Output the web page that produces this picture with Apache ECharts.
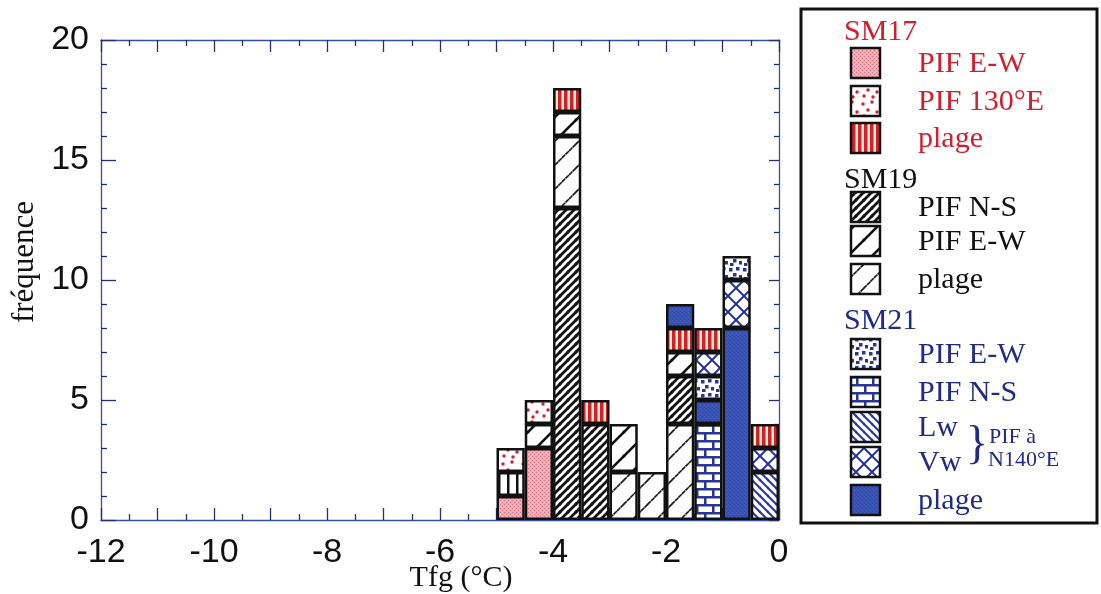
<!DOCTYPE html>
<html>
<head>
<meta charset="utf-8">
<style>
html,body{margin:0;padding:0;background:#fff;}
#chart{width:1101px;height:594px;}
</style>
<script src="https://cdn.jsdelivr.net/npm/echarts@6/dist/echarts.min.js"></script>
</head>
<body>
<div id="chart"></div>
<script>
// ---------- DATA ----------
// Histogram bins (left edge, °C), width 0.5, over the x range
const xMin = -12, xMax = 0, binWidth = 0.5;
const dataBins = [-5, -4.5, -4, -3.5, -3, -2.5, -2, -1.5, -1, -0.5];
// stacked layers, bottom -> top (values per data bin)
const sm17PifEW      = [1, 3, 0, 0, 0, 0, 0, 0, 0, 0];
const sm17Other      = [1, 0, 0, 0, 0, 0, 0, 0, 0, 0];
const sm19PlageLow   = [0, 0, 0, 0, 2, 2, 4, 0, 0, 0];
const sm19PifNS      = [0, 0, 13, 4, 0, 0, 2, 0, 0, 0];
const sm19PlageHigh  = [0, 0, 3, 0, 0, 0, 0, 0, 0, 0];
const sm19PifEW      = [0, 1, 1, 0, 2, 0, 1, 0, 0, 0];
const sm21PifNS      = [0, 0, 0, 0, 0, 0, 0, 4, 0, 0];
const sm21Lw         = [0, 0, 0, 0, 0, 0, 0, 0, 0, 2];
const sm21PlageLow   = [0, 0, 0, 0, 0, 0, 0, 1, 8, 0];
const sm21PifEWLow   = [0, 0, 0, 0, 0, 0, 0, 1, 0, 0];
const sm21Vw         = [0, 0, 0, 0, 0, 0, 0, 1, 2, 1];
const sm21PifEWHigh  = [0, 0, 0, 0, 0, 0, 0, 0, 1, 0];
const sm17Plage      = [0, 0, 1, 1, 0, 0, 1, 1, 0, 1];
const sm21PlageHigh  = [0, 0, 0, 0, 0, 0, 1, 0, 0, 0];
const sm17Pif130     = [1, 1, 0, 0, 0, 0, 0, 0, 0, 0];

// Legend texts
const sm17Title = 'SM17', sm19Title = 'SM19', sm21Title = 'SM21';
const sm17Labels = ['PIF E-W', 'PIF 130°E', 'plage'];
const sm19Labels = ['PIF N-S', 'PIF E-W', 'plage'];
const sm21Labels = ['PIF E-W', 'PIF N-S', 'Lw', 'Vw', 'plage'];
const braceLabels = ['PIF à', 'N140°E'];
const xTitle = 'Tfg (°C)', yTitle = 'fréquence';

// ---------- PATTERNS ----------
const RED = '#d11f2e', BLUE = '#27359a', NAVY = '#1f2b86';
function pat(w, h, draw) {
  const c = document.createElement('canvas');
  c.width = w; c.height = h;
  const g = c.getContext('2d');
  g.fillStyle = '#fff'; g.fillRect(0, 0, w, h);
  draw(g, w, h);
  return { image: c, repeat: 'repeat' };
}
function diag(g, s, lw, color, dash, back) {
  g.strokeStyle = color; g.lineWidth = lw; g.lineCap = 'square';
  if (dash) g.setLineDash(dash);
  const segs = back
    ? [[0, 0, s, s], [-s, 0, 0, s], [s, 0, 2 * s, s], [0, -s, s, 0], [0, s, s, 2 * s]]
    : [[0, s, s, 0], [-s, s, 0, 0], [s, s, 2 * s, 0], [0, 2 * s, s, s], [0, 0, s, -s]];
  segs.forEach(p => { g.beginPath(); g.moveTo(p[0], p[1]); g.lineTo(p[2], p[3]); g.stroke(); });
}
const P = {
  pink: pat(4, 4, g => {
    g.fillStyle = '#f1aab3'; g.fillRect(0, 0, 4, 4);
    g.fillStyle = '#e0707f'; g.fillRect(0, 0, 1, 1); g.fillRect(2, 2, 1, 1);
    g.fillStyle = '#f6c6cc'; g.fillRect(2, 0, 1, 1); g.fillRect(0, 2, 1, 1);
  }),
  redDots: pat(20, 20, g => {
    g.fillStyle = RED;
    [[3, 4], [12, 2], [8, 10], [17, 12], [4, 16], [13, 17]].forEach(p => {
      g.beginPath(); g.arc(p[0], p[1], 1.7, 0, Math.PI * 2); g.fill();
    });
  }),
  redStripes: pat(6, 6, g => {
    g.fillStyle = '#f6eecb'; g.fillRect(0, 0, 6, 6);
    g.fillStyle = RED; g.fillRect(0, 0, 3.5, 6);
  }),
  vLines: pat(9, 9, g => { g.fillStyle = '#111'; g.fillRect(3, 0, 2.5, 9); }),
  nsDense: pat(8, 8, g => diag(g, 8, 2.8, '#111')),
  ewSparse: pat(24, 24, g => diag(g, 24, 2.6, '#111')),
  plageDash: pat(24, 24, g => diag(g, 24, 1.6, '#111', [3, 2])),
  blueDots: pat(14, 14, g => {
    g.fillStyle = BLUE;
    [[1, 2], [8, 1], [5, 7], [11, 9], [2, 11]].forEach(p => g.fillRect(p[0], p[1], 3.5, 3.5));
  }),
  brick: pat(16, 16, g => {
    g.fillStyle = BLUE;
    g.fillRect(0, 0, 16, 2.5); g.fillRect(0, 8, 16, 2.5);
    g.fillRect(0, 0, 2.5, 8); g.fillRect(8, 8, 2.5, 8);
  }),
  lw: pat(8, 8, g => diag(g, 8, 2, BLUE, null, true)),
  vw: pat(16, 16, g => { diag(g, 16, 2, BLUE); diag(g, 16, 2, BLUE, null, true); }),
  bluePlage: pat(4, 4, g => {
    g.fillStyle = '#3a52b3'; g.fillRect(0, 0, 4, 4);
    g.fillStyle = '#4560c0'; g.fillRect(0, 0, 1, 1); g.fillRect(2, 2, 1, 1);
    g.fillStyle = '#3047a6'; g.fillRect(2, 0, 1, 1); g.fillRect(0, 3, 1, 1);
  })
};

// ---------- BUILD ----------
const categories = [];
for (let x = xMin; x < xMax - 1e-9; x += binWidth) categories.push(x.toFixed(1));
function full(arr) {
  const out = categories.map(() => null);
  dataBins.forEach((b, i) => {
    const k = categories.indexOf(b.toFixed(1));
    out[k] = arr[i] > 0 ? arr[i] : null;
  });
  return out;
}
const layers = [
  ['SM17 PIF E-W', sm17PifEW, P.pink],
  ['SM17 autre', sm17Other, P.vLines],
  ['SM19 plage', sm19PlageLow, P.plageDash],
  ['SM19 PIF N-S', sm19PifNS, P.nsDense],
  ['SM19 plage', sm19PlageHigh, P.plageDash],
  ['SM19 PIF E-W', sm19PifEW, P.ewSparse],
  ['SM21 PIF N-S', sm21PifNS, P.brick],
  ['SM21 Lw', sm21Lw, P.lw],
  ['SM21 plage', sm21PlageLow, P.bluePlage],
  ['SM21 PIF E-W', sm21PifEWLow, P.blueDots],
  ['SM21 Vw', sm21Vw, P.vw],
  ['SM21 PIF E-W', sm21PifEWHigh, P.blueDots],
  ['SM17 plage', sm17Plage, P.redStripes],
  ['SM21 plage', sm21PlageHigh, P.bluePlage],
  ['SM17 PIF 130°E', sm17Pif130, P.redDots]
];
const series = layers.map(l => ({
  name: l[0], type: 'bar', stack: 'all', xAxisIndex: 0, yAxisIndex: 0,
  barWidth: '100%', barCategoryGap: '0%',
  data: full(l[1]),
  itemStyle: { color: l[2], borderColor: '#111', borderWidth: 2.5 },
  emphasis: { disabled: true }
}));

// ---------- LEGEND (graphic) ----------
const SERIF = '"Liberation Serif", "DejaVu Serif", serif';
const graphic = [];
graphic.push({ type: 'rect', shape: { x: 801, y: 9, width: 296, height: 514 },
  style: { fill: 'none', stroke: '#111', lineWidth: 3 } });
function title(text, y, color) {
  graphic.push({ type: 'text', x: 844, y: y,
    style: { text: text, font: '30px ' + SERIF, fill: color, textVerticalAlign: 'middle' } });
}
function item(label, y, fill, color) {
  graphic.push({ type: 'rect', shape: { x: 851, y: y - 15, width: 29, height: 30 },
    style: { fill: fill, stroke: '#111', lineWidth: 2.5 } });
  graphic.push({ type: 'text', x: 918, y: y + 1,
    style: { text: label, font: '30px ' + SERIF, fill: color, textVerticalAlign: 'middle' } });
}
title(sm17Title, 32, RED);
[P.pink, P.redDots, P.redStripes].forEach((f, i) => item(sm17Labels[i], [63, 101, 138][i], f, RED));
title(sm19Title, 180, '#111');
[P.nsDense, P.ewSparse, P.plageDash].forEach((f, i) => item(sm19Labels[i], [207, 241, 279][i], f, '#111'));
title(sm21Title, 321, NAVY);
[P.blueDots, P.brick, P.lw, P.vw, P.bluePlage].forEach((f, i) => item(sm21Labels[i], [354, 392, 427, 462, 500][i], f, NAVY));
graphic.push({ type: 'text', x: 977, y: 446,
  style: { text: '}', font: '46px ' + SERIF, fill: NAVY, textAlign: 'center', textVerticalAlign: 'middle' } });
graphic.push({ type: 'text', x: 989, y: 437,
  style: { text: braceLabels[0], font: '22px ' + SERIF, fill: NAVY, textVerticalAlign: 'middle' } });
graphic.push({ type: 'text', x: 988, y: 460,
  style: { text: braceLabels[1], font: '22px ' + SERIF, fill: NAVY, textVerticalAlign: 'middle' } });
// axis titles
graphic.push({ type: 'text', x: 461, y: 578,
  style: { text: xTitle, font: '30px ' + SERIF, fill: '#111', textAlign: 'center', textVerticalAlign: 'middle' } });
graphic.push({ type: 'text', x: 25, y: 262, rotation: Math.PI / 2,
  style: { text: yTitle, font: '31px ' + SERIF, fill: '#111', textAlign: 'center', textVerticalAlign: 'middle' } });

// ---------- AXES ----------
const AXC = '#3550a0', TICKC = '#233070';
const SANS = '"Liberation Sans", Arial, sans-serif';
function xVal(pos, labels) {
  return {
    type: 'value', position: pos, min: xMin, max: xMax, interval: 1,
    axisLine: { show: true, onZero: false, lineStyle: { color: AXC, width: 1.3 } },
    axisTick: { show: true, inside: true, length: 12, lineStyle: { color: TICKC, width: 1.3 } },
    minorTick: { show: true, splitNumber: 2, length: 6, lineStyle: { color: TICKC, width: 1.3 } },
    splitLine: { show: false }, minorSplitLine: { show: false },
    axisLabel: { show: labels, margin: 16, fontSize: 34, fontFamily: SANS, color: '#111',
      formatter: v => (Math.round(v) % 2 === 0 ? String(v) : '') }
  };
}
function yVal(pos, labels, majLen, minLen) {
  return {
    type: 'value', position: pos, min: 0, max: 20, interval: 5,
    axisLine: { show: true, onZero: false, lineStyle: { color: AXC, width: 1.3 } },
    axisTick: { show: true, inside: true, length: majLen, lineStyle: { color: TICKC, width: 1.3 } },
    minorTick: { show: true, splitNumber: 5, length: minLen, lineStyle: { color: TICKC, width: 1.3 } },
    splitLine: { show: false }, minorSplitLine: { show: false },
    axisLabel: { show: labels, margin: 12, fontSize: 34, fontFamily: SANS, color: '#111' }
  };
}

const option = {
  backgroundColor: '#fff',
  animation: false,
  grid: { left: 101, right: 322, top: 40, bottom: 74, containLabel: false },
  xAxis: [
    { type: 'category', data: categories, show: false, boundaryGap: true },
    xVal('bottom', true),
    xVal('top', false)
  ],
  yAxis: [
    yVal('left', true, 15, 6),
    yVal('right', false, 10, 5)
  ],
  series: series,
  graphic: graphic
};
const chart = echarts.init(document.getElementById('chart'), null, { renderer: 'canvas' });
chart.setOption(option);
</script>
</body>
</html>
